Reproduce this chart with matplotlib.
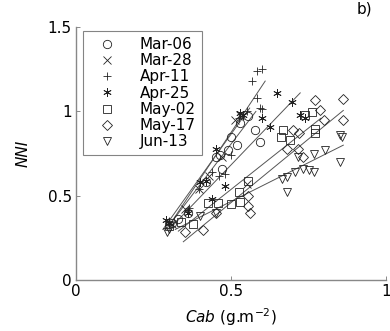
import numpy as np
import matplotlib
matplotlib.use('Agg')
import matplotlib.pyplot as plt

plt.rcParams['font.family'] = ['DejaVu Sans']

# Дати вимірювань і маркери
dates = ['Mar-06', 'Mar-28', 'Apr-11', 'Apr-25', 'May-02', 'May-17', 'Jun-13']
markers = ['o', 'x', '+', (6, 2, 0), 's', 'D', 'v']

# Cab (g.m-2) та NNI для кожної дати
cab_mar06 = [0.31, 0.33, 0.36, 0.42, 0.45, 0.465, 0.47, 0.49, 0.50, 0.52, 0.53, 0.555, 0.577, 0.594]
nni_mar06 = [0.34, 0.36, 0.40, 0.58, 0.73, 0.74, 0.66, 0.77, 0.85, 0.80, 0.93, 0.97, 0.89, 0.82]

cab_mar28 = [0.31, 0.35, 0.395, 0.43, 0.47, 0.513, 0.53, 0.55]
nni_mar28 = [0.33, 0.42, 0.54, 0.62, 0.73, 0.95, 0.98, 0.57]

cab_apr11 = [0.30, 0.362, 0.365, 0.395, 0.44, 0.46, 0.48, 0.50, 0.524, 0.55, 0.583, 0.594, 0.567, 0.585, 0.60, 0.60]
nni_apr11 = [0.35, 0.414, 0.43, 0.54, 0.64, 0.62, 0.63, 0.74, 0.96, 1.00, 1.08, 1.02, 1.18, 1.24, 1.25, 1.016]

cab_apr25 = [0.29, 0.30, 0.36, 0.40, 0.42, 0.44, 0.45, 0.48, 0.53, 0.54, 0.60, 0.626, 0.647, 0.696, 0.723, 0.74]
nni_apr25 = [0.355, 0.34, 0.40, 0.58, 0.59, 0.48, 0.78, 0.556, 0.99, 0.98, 0.96, 0.907, 1.11, 1.055, 0.976, 0.96]

cab_may02 = [0.30, 0.34, 0.378, 0.427, 0.457, 0.50, 0.524, 0.529, 0.556, 0.669, 0.66, 0.69, 0.739, 0.76, 0.771, 0.771]
nni_may02 = [0.32, 0.345, 0.335, 0.454, 0.454, 0.45, 0.52, 0.463, 0.59, 0.888, 0.85, 0.83, 0.976, 0.996, 0.897, 0.87]

cab_may17 = [0.352, 0.41, 0.45, 0.556, 0.556, 0.561, 0.68, 0.70, 0.717, 0.733, 0.72, 0.771, 0.787, 0.80, 0.862, 0.862]
nni_may17 = [0.286, 0.296, 0.40, 0.50, 0.44, 0.395, 0.78, 0.888, 0.78, 0.73, 0.87, 1.065, 1.006, 0.95, 1.075, 0.95]

cab_jun13 = [0.292, 0.30, 0.40, 0.45, 0.663, 0.68, 0.68, 0.706, 0.733, 0.75, 0.766, 0.766, 0.803, 0.852, 0.852, 0.857, 0.717]
nni_jun13 = [0.286, 0.30, 0.38, 0.40, 0.60, 0.61, 0.52, 0.64, 0.66, 0.65, 0.64, 0.75, 0.773, 0.70, 0.858, 0.85, 0.73]

# Лінії регресії: кінці (x0, x1) і (y0, y1)
fit_x = [(0.29, 0.58), (0.28, 0.56), (0.31, 0.61), (0.30, 0.723), (0.33, 0.79), (0.346, 0.862), (0.32, 0.862)]
fit_y = [(0.30, 1.00), (0.30, 1.02), (0.35, 1.18), (0.30, 1.11), (0.29, 0.96), (0.227, 1.006), (0.30, 0.80)]

cab_all = [cab_mar06, cab_mar28, cab_apr11, cab_apr25, cab_may02, cab_may17, cab_jun13]
nni_all = [nni_mar06, nni_mar28, nni_apr11, nni_apr25, nni_may02, nni_may17, nni_jun13]

fig = plt.figure(figsize=(3.9, 3.31), dpi=100)
ax = fig.add_axes([0.195, 0.154, 0.795, 0.764])

for i in range(len(dates)):
    ax.plot(fit_x[i], fit_y[i], color='#555555', linewidth=0.7)

for i in range(len(dates)):
    ax.plot(cab_all[i], nni_all[i], linestyle='none', marker=markers[i],
            markersize=6 if markers[i] not in ('s', 'D') else 5.2,
            markerfacecolor='none', markeredgecolor='#222222',
            markeredgewidth=0.6, label=dates[i])

ax.set_xlim(0, 1)
ax.set_ylim(0, 1.5)
ax.set_xticks([0, 0.5, 1])
ax.set_xticklabels(['0', '0.5', '1'])
ax.set_yticks([0, 0.5, 1, 1.5])
ax.set_yticklabels(['0', '0.5', '1', '1.5'])
ax.tick_params(direction='in', length=3, width=0.6, color='#777777', labelsize=11, pad=3)

for s in ['top', 'right']:
    ax.spines[s].set_visible(False)
for s in ['left', 'bottom']:
    ax.spines[s].set_color('#888888')
    ax.spines[s].set_linewidth(1.0)

ax.set_ylabel('NNI', fontstyle='italic', fontsize=11, labelpad=12)
ax.set_xlabel(r'$\it{Cab}$ (g.m$^{-2}$)', fontsize=11, labelpad=5)

leg = ax.legend(loc='upper left', bbox_to_anchor=(0.022, 0.985), fontsize=11,
                frameon=True, fancybox=False, labelspacing=0.08,
                handletextpad=0.9, borderpad=0.4, handlelength=2.4,
                borderaxespad=0)
leg.get_frame().set_edgecolor('#666666')
leg.get_frame().set_linewidth(0.8)

fig.text(0.915, 0.995, 'b)', fontsize=11, va='top')

fig.savefig('out.png', dpi=100)
